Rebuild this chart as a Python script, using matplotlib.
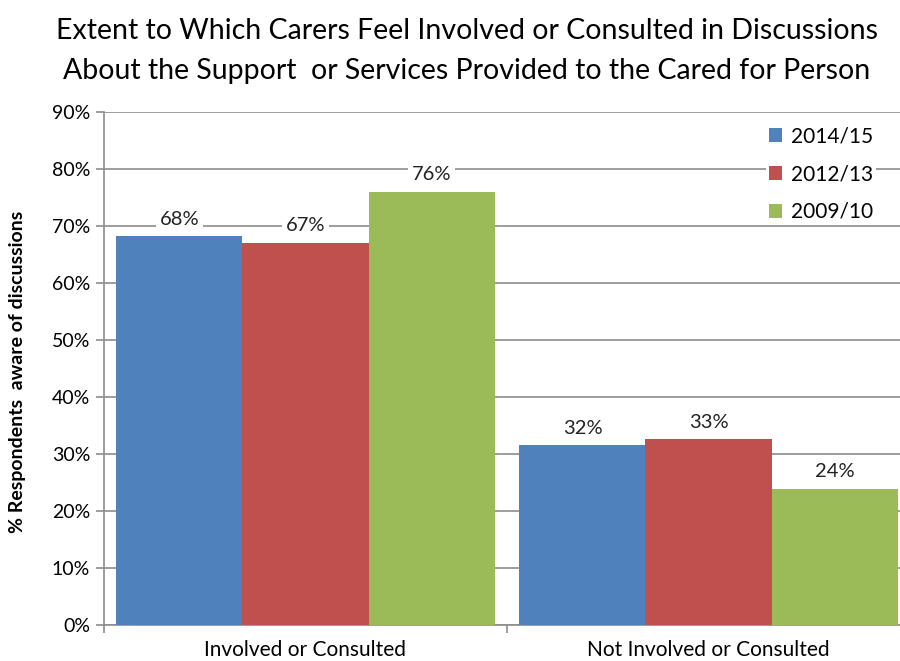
import matplotlib
matplotlib.use("Agg")
import matplotlib.pyplot as plt
from matplotlib.patches import Patch
import numpy as np

categories = ["Involved or Consulted", "Not Involved or Consulted"]
series_names = ["2014/15", "2012/13", "2009/10"]
values_2014 = [68.2, 31.6]
values_2012 = [67.1, 32.6]
values_2009 = [76.0, 23.9]
colors = ["#4F81BD", "#C0504D", "#9BBB59"]
title_lines = ["Extent to Which Carers Feel Involved or Consulted in Discussions",
               "About the Support  or Services Provided to the Cared for Person"]
ylabel = "% Respondents  aware of discussions"

plt.rcParams['font.family'] = ['Lato', 'DejaVu Sans']

fig = plt.figure(figsize=(9, 6.61), dpi=100)
ax = fig.add_axes([104/900, 36/661, 806/900, 513/661])

x = np.arange(len(categories))
w = 0.3127
all_vals = [values_2014, values_2012, values_2009]
for i, (vals, c) in enumerate(zip(all_vals, colors)):
    bars = ax.bar(x + (i - 1) * w, vals, width=w, color=c, zorder=3, linewidth=0)
    for b, v in zip(bars, vals):
        ax.annotate(f"{v:.0f}%", (b.get_x() + b.get_width() / 2, v),
                    xytext=(0, 6), textcoords="offset points",
                    ha="center", va="bottom", fontsize=14.5, color="#222222",
                    zorder=4,
                    bbox=dict(boxstyle="square,pad=0.2", fc="white", ec="none"))

ax.set_xlim(-0.5, 1.5)
ax.set_ylim(0, 90)
ax.set_yticks(np.arange(0, 91, 10))
ax.set_yticklabels([f"{t}%" for t in range(0, 91, 10)], fontsize=14)
ax.yaxis.grid(True, color="#8c8c8c", linewidth=1.2, zorder=0)
ax.set_axisbelow(True)
ax.set_xticks(x)
ax.set_xticklabels(categories, fontsize=15)
ax.tick_params(axis="x", which="major", length=0, pad=11)
ax.set_xticks([-0.5, 0.5, 1.5], minor=True)
ax.tick_params(axis="x", which="minor", length=6, color="#8c8c8c", width=1.2)
ax.tick_params(axis="y", length=6, color="#8c8c8c", width=1.2, pad=4)
for s in ["top", "right"]:
    ax.spines[s].set_visible(False)
for s in ["left", "bottom"]:
    ax.spines[s].set_color("#8c8c8c")
    ax.spines[s].set_linewidth(1.2)

fig.text(18/900, 1 - 372/661, ylabel, rotation=90, ha="center", va="center",
         fontsize=14, fontweight="bold")
fig.text(467/900, 1 - 31/661, title_lines[0], ha="center", va="center", fontsize=20.5)
fig.text(467/900, 1 - 71/661, title_lines[1], ha="center", va="center", fontsize=20.5)

handles = [Patch(facecolor=c, edgecolor="none") for c in colors]
fig.legend(handles, series_names, loc="upper left",
           bbox_to_anchor=(766/900, 1 - 124/661), frameon=True, framealpha=1,
           edgecolor="none", facecolor="white", fontsize=15,
           handlelength=0.65, handleheight=0.65, labelspacing=0.85,
           handletextpad=0.45, borderpad=0.12, borderaxespad=0)

fig.savefig("out.png", dpi=100)
